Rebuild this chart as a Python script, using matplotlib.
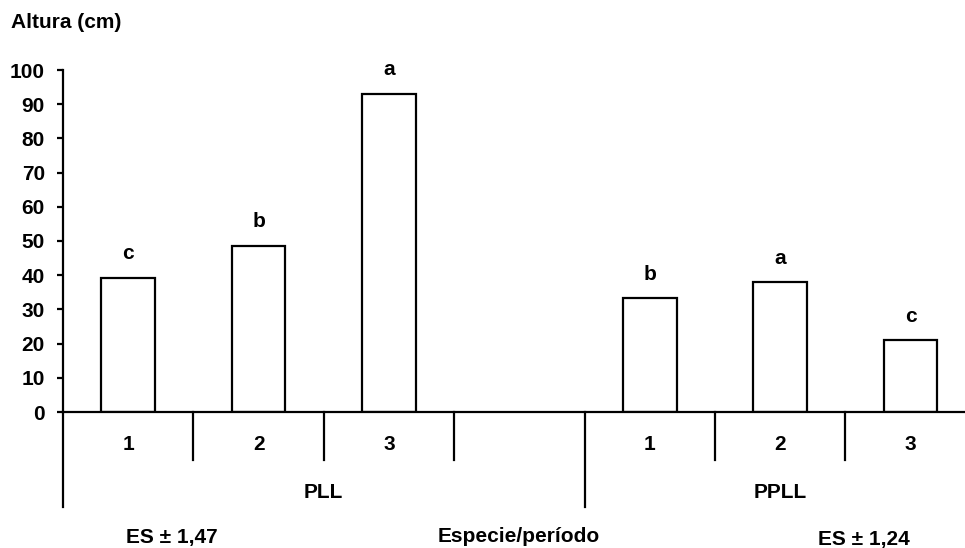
import matplotlib
matplotlib.use("Agg")
import matplotlib.pyplot as plt

plt.rcParams['font.family'] = ['Liberation Sans', 'DejaVu Sans']
plt.rcParams['font.weight'] = 'bold'

# ---- data ----
groups = ["PLL", "PPLL"]
periods = ["1", "2", "3"]
pll_values = [39.2, 48.6, 93.0]
ppll_values = [33.3, 37.9, 21.0]
pll_letters = ["c", "b", "a"]
ppll_letters = ["b", "a", "c"]
es_labels = ["ES ± 1,47", "ES ± 1,24"]
y_ticks = list(range(0, 101, 10))
x_title = "Especie/período"
y_title = "Altura (cm)"

# slots: 0,1,2 = PLL ; 3 = empty ; 4,5,6 = PPLL
pll_pos = [0, 1, 2]
ppll_pos = [4, 5, 6]

W, H = 965, 548
fig = plt.figure(figsize=(W / 100, H / 100), dpi=100)
x0_px, y0_px, y100_px = 63, 412, 70
slot_px = 130.4
left = x0_px / W
bottom = (H - y0_px) / H
height = (y0_px - y100_px) / H
ax = fig.add_axes([left, bottom, 1 - left, height])

xmax = -0.5 + (W - x0_px) / slot_px
ax.set_xlim(-0.5, xmax)
ax.set_ylim(0, 100)

fs = 15
lw = 1.6
for pos, vals, lets in ((pll_pos, pll_values, pll_letters), (ppll_pos, ppll_values, ppll_letters)):
    bars = ax.bar(pos, vals, width=0.41, color='white', edgecolor='black', linewidth=lw, zorder=3)
    for b, l in zip(bars, lets):
        ax.annotate(l, (b.get_x() + b.get_width() / 2, b.get_height()), xytext=(0, 13.3),
                    textcoords='offset points', ha='center', va='baseline', fontsize=fs,
                    fontweight='bold')

# axes styling
for s in ('top', 'right', 'bottom'):
    ax.spines[s].set_visible(False)
ax.spines['left'].set_linewidth(lw)
ax.axhline(0, color='black', linewidth=lw, zorder=4, clip_on=False)
ax.set_yticks(y_ticks)
ax.set_yticklabels([str(v) for v in y_ticks], fontsize=fs, fontweight='bold')
ax.tick_params(axis='y', length=4.5, width=lw, pad=8.5)
ax.set_xticks([])

px_per_unit = (y0_px - y100_px) / 100.0
def py(pixel_y):
    return -(pixel_y - y0_px) / px_per_unit

# dividers between categories
short_end = py(460)
long_end = py(507)
n_slots = 7
for k in range(n_slots):
    xb = k - 0.5
    end = long_end if k in (0, 4) else short_end
    ax.plot([xb, xb], [0, end], color='black', linewidth=lw, clip_on=False, zorder=4)

# period labels
for pos in (pll_pos, ppll_pos):
    for p, lab in zip(pos, periods):
        ax.text(p, py(444), lab, ha='center', va='center', fontsize=fs, fontweight='bold', clip_on=False)

# group labels
ax.text(1.5, py(493), groups[0], ha='center', va='center', fontsize=fs, fontweight='bold', clip_on=False)
ax.text(5.0, py(493), groups[1], ha='center', va='center', fontsize=fs, fontweight='bold', clip_on=False)

# bottom texts
fig.text(172 / W, (H - 537) / H, es_labels[0], ha='center', va='center', fontsize=fs, fontweight='bold')
fig.text(519 / W, (H - 537) / H, x_title, ha='center', va='center', fontsize=fs, fontweight='bold')
fig.text(864 / W, (H - 540) / H, es_labels[1], ha='center', va='center', fontsize=fs, fontweight='bold')

# y title
fig.text(11 / W, (H - 23) / H, y_title, ha='left', va='center', fontsize=fs, fontweight='bold')

fig.savefig("out.png", dpi=100)
